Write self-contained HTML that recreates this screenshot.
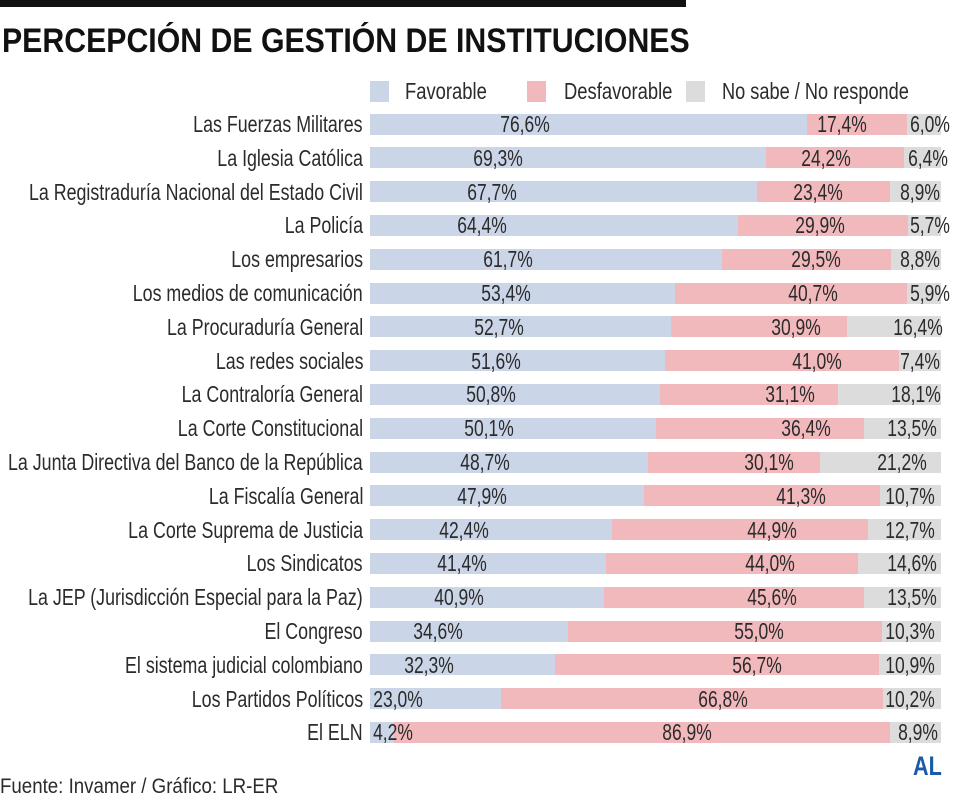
<!DOCTYPE html>
<html><head><meta charset="utf-8"><style>
body{margin:0;width:960px;height:800px;background:#fff;position:relative;overflow:hidden;font-family:"Liberation Sans",sans-serif;color:#2b2b2b}
.t{position:absolute;white-space:nowrap;font-size:23px;line-height:24px}
.l{transform:scaleX(0.775);transform-origin:right center;text-align:right;right:597px}
.p{transform:translateX(-50%) scaleX(0.76)}
.b{position:absolute;height:21px}
.f{background:#cbd5e8}.d{background:#f2b9bd}.n{background:#dcdcdc}
</style></head><body>
<div style="position:absolute;left:0;top:0;width:686px;height:7px;background:#111"></div>
<div class="t" style="left:2px;top:22px;font-size:34px;line-height:38px;font-weight:bold;color:#111;transform:scaleX(0.89);transform-origin:left center">PERCEPCIÓN DE GESTIÓN DE INSTITUCIONES</div>
<div class="b f" style="left:370px;top:81px;width:19px;height:21px"></div>
<div class="t" style="left:405px;top:79px;transform:scaleX(0.8);transform-origin:left center">Favorable</div>
<div class="b d" style="left:527px;top:81px;width:19px;height:21px"></div>
<div class="t" style="left:564px;top:79px;transform:scaleX(0.8);transform-origin:left center">Desfavorable</div>
<div class="b n" style="left:686px;top:81px;width:19px;height:21px"></div>
<div class="t" style="left:722px;top:79px;transform:scaleX(0.79);transform-origin:left center">No sabe / No responde</div>
<div id="c"></div>
<div class="t" style="left:0;top:775px;font-size:21px;transform:scaleX(0.89);transform-origin:left center">Fuente: Invamer / Gráfico: LR-ER</div>
<div class="t" style="left:913px;top:754px;font-size:27px;font-weight:bold;color:#1a5aa8;transform:scaleX(0.8);transform-origin:left center">AL</div>
<script>
var R=[["Las Fuerzas Militares",76.6,17.4,6.0,525,842,930],
["La Iglesia Católica",69.3,24.2,6.4,498,826,928],
["La Registraduría Nacional del Estado Civil",67.7,23.4,8.9,492,818,920],
["La Policía",64.4,29.9,5.7,482,820,930],
["Los empresarios",61.7,29.5,8.8,508,816,920],
["Los medios de comunicación",53.4,40.7,5.9,506,813,930],
["La Procuraduría General",52.7,30.9,16.4,499,796,918],
["Las redes sociales",51.6,41.0,7.4,496,817,920],
["La Contraloría General",50.8,31.1,18.1,491,790,916],
["La Corte Constitucional",50.1,36.4,13.5,489,806,912],
["La Junta Directiva del Banco de la República",48.7,30.1,21.2,485,769,902],
["La Fiscalía General",47.9,41.3,10.7,482,801,910],
["La Corte Suprema de Justicia",42.4,44.9,12.7,464,772,910],
["Los Sindicatos",41.4,44.0,14.6,462,770,912],
["La JEP (Jurisdicción Especial para la Paz)",40.9,45.6,13.5,459,772,912],
["El Congreso",34.6,55.0,10.3,438,759,910],
["El sistema judicial colombiano",32.3,56.7,10.9,429,757,910],
["Los Partidos Políticos",23.0,66.8,10.2,398,723,910],
["El ELN",4.2,86.9,8.9,393,687,918]];
var h="",W=571,X=370;
function fm(v){return v.toFixed(1).replace(".",",")+"%";}
R.forEach(function(r,i){var cy=124+i*33.8,top=cy-10.5;
var s=r[1]+r[2]+r[3];var a=X+W*r[1]/s,b=a+W*r[2]/s;
h+='<div class="b f" style="left:'+X+'px;top:'+top+'px;width:'+(a-X)+'px"></div>';
h+='<div class="b d" style="left:'+a+'px;top:'+top+'px;width:'+(b-a)+'px"></div>';
h+='<div class="b n" style="left:'+b+'px;top:'+top+'px;width:'+(X+W-b)+'px"></div>';
h+='<div class="t l" style="top:'+(cy-12)+'px">'+r[0]+'</div>';
for(var k=0;k<3;k++)h+='<div class="t p" style="left:'+r[4+k]+'px;top:'+(cy-12)+'px">'+fm(r[1+k])+'</div>';
});
document.getElementById("c").innerHTML=h;
</script>
</body></html>
